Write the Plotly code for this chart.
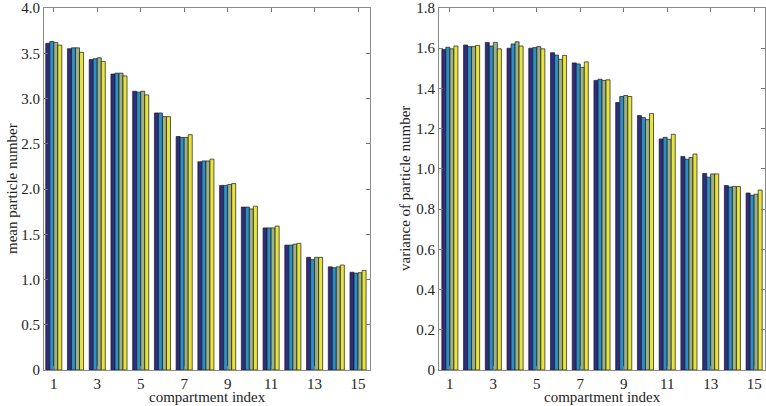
import plotly.graph_objects as go

compartments = list(range(1, 16))

mean_s1 = [3.61, 3.55, 3.43, 3.27, 3.08, 2.84, 2.58, 2.30, 2.04, 1.80, 1.57, 1.38, 1.245, 1.14, 1.08]
mean_s2 = [3.63, 3.56, 3.44, 3.28, 3.07, 2.84, 2.57, 2.31, 2.04, 1.80, 1.57, 1.38, 1.22, 1.13, 1.07]
mean_s3 = [3.62, 3.56, 3.45, 3.28, 3.08, 2.80, 2.57, 2.31, 2.05, 1.78, 1.57, 1.39, 1.245, 1.14, 1.075]
mean_s4 = [3.59, 3.51, 3.41, 3.25, 3.04, 2.80, 2.60, 2.33, 2.06, 1.81, 1.59, 1.40, 1.245, 1.16, 1.10]

var_s1 = [1.594, 1.616, 1.629, 1.600, 1.600, 1.578, 1.527, 1.440, 1.330, 1.265, 1.149, 1.062, 0.977, 0.917, 0.880]
var_s2 = [1.605, 1.608, 1.611, 1.621, 1.603, 1.566, 1.522, 1.446, 1.360, 1.255, 1.157, 1.048, 0.959, 0.910, 0.869]
var_s3 = [1.597, 1.608, 1.629, 1.632, 1.608, 1.545, 1.505, 1.440, 1.365, 1.245, 1.147, 1.057, 0.975, 0.913, 0.874]
var_s4 = [1.611, 1.614, 1.597, 1.611, 1.597, 1.564, 1.532, 1.443, 1.360, 1.275, 1.172, 1.074, 0.975, 0.912, 0.895]

colors = ['#2f2e7e', '#2a8fc6', '#9cb184', '#e8e43c']

mean_ticks = [0, 0.5, 1.0, 1.5, 2.0, 2.5, 3.0, 3.5, 4.0]
mean_ticktext = ['0', '0.5', '1.0', '1.5', '2.0', '2.5', '3.0', '3.5', '4.0']
var_ticks = [0, 0.2, 0.4, 0.6, 0.8, 1.0, 1.2, 1.4, 1.6, 1.8]
var_ticktext = ['0', '0.2', '0.4', '0.6', '0.8', '1.0', '1.2', '1.4', '1.6', '1.8']
x_ticks = [1, 3, 5, 7, 9, 11, 13, 15]

x_title = 'compartment index'
y_title_left = 'mean particle number'
y_title_right = 'variance of particle number'

fig = go.Figure()
for i, ys in enumerate([mean_s1, mean_s2, mean_s3, mean_s4]):
    fig.add_trace(go.Bar(x=compartments, y=ys, marker=dict(color=colors[i], line=dict(color='#1a1a1a', width=0.7)),
                         xaxis='x', yaxis='y', offsetgroup=str(i), showlegend=False, hoverinfo='skip'))
for i, ys in enumerate([var_s1, var_s2, var_s3, var_s4]):
    fig.add_trace(go.Bar(x=compartments, y=ys, marker=dict(color=colors[i], line=dict(color='#1a1a1a', width=0.7)),
                         xaxis='x2', yaxis='y2', offsetgroup=str(i), showlegend=False, hoverinfo='skip'))

font = dict(family='Liberation Serif', size=15, color='#222')
axis_common = dict(showline=True, linecolor='#8a8a8a', linewidth=1, mirror='ticks', ticks='inside',
                   ticklen=4, tickcolor='#777', showgrid=False, zeroline=False, tickfont=font,
                   automargin=False)

W, H = 766, 406
fig.update_layout(
    width=W, height=H, margin=dict(l=0, r=0, t=0, b=0),
    paper_bgcolor='white', plot_bgcolor='white',
    barmode='group', bargap=0.26, bargroupgap=0,
    font=font,
    xaxis=dict(domain=[44 / W, 370 / W], range=[0.55, 15.55], tickvals=x_ticks, anchor='y', **axis_common),
    yaxis=dict(domain=[1 - 370 / H, 1 - 8 / H], range=[0, 4.0], tickvals=mean_ticks, ticktext=mean_ticktext,
               anchor='x', **axis_common),
    xaxis2=dict(domain=[439 / W, 765 / W], range=[0.5, 15.5], tickvals=x_ticks, anchor='y2', **axis_common),
    yaxis2=dict(domain=[1 - 370 / H, 1 - 8 / H], range=[0, 1.8], tickvals=var_ticks, ticktext=var_ticktext,
                anchor='x2', **axis_common),
    annotations=[
        dict(text=x_title, x=207 / W, y=1 - 397 / H, xref='paper', yref='paper', xanchor='center',
             yanchor='middle', showarrow=False, font=font),
        dict(text=x_title, x=602 / W, y=1 - 397 / H, xref='paper', yref='paper', xanchor='center',
             yanchor='middle', showarrow=False, font=font),
        dict(text=y_title_left, x=12 / W, y=1 - 189 / H, xref='paper', yref='paper', xanchor='center',
             yanchor='middle', showarrow=False, font=font, textangle=-90),
        dict(text=y_title_right, x=405 / W, y=1 - 189 / H, xref='paper', yref='paper', xanchor='center',
             yanchor='middle', showarrow=False, font=font, textangle=-90),
    ],
)

fig.write_html('out.html', config={'displayModeBar': False},
               post_script="document.body.style.margin='0';document.body.style.padding='0';")
